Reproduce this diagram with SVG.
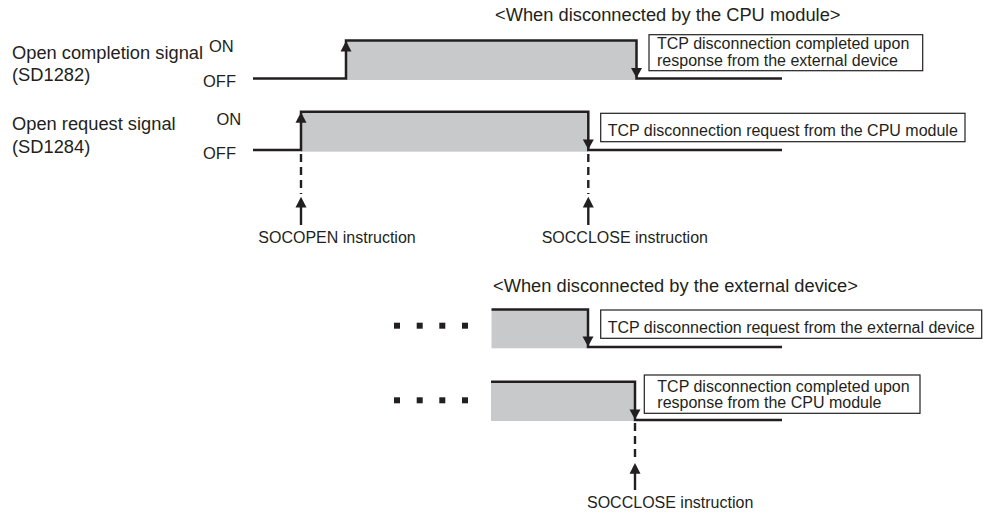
<svg xmlns="http://www.w3.org/2000/svg" width="983" height="515" viewBox="0 0 983 515">
<defs>
<style>
text{font-family:"Liberation Sans",Arial,sans-serif;fill:#231f20}
.lbl{font-size:18.3px}
.st{font-size:16.5px}
.bx{font-size:16px}
.ttl{font-size:18.3px}
.sig{fill:none;stroke:#231f20;stroke-width:2.5}
.fill{fill:#c8c9cb}
.box{fill:#fff;stroke:#231f20;stroke-width:1.2}
.dash{fill:none;stroke:#231f20;stroke-width:2.4;stroke-dasharray:8,5}
.shaft{fill:none;stroke:#231f20;stroke-width:2.4}
.ah{fill:#231f20}
.dot{fill:#231f20}
</style>
</defs>
<rect width="983" height="515" fill="#fff"/>

<text class="ttl" x="495" y="21">&lt;When disconnected by the CPU module&gt;</text>
<text class="ttl" x="493" y="292">&lt;When disconnected by the external device&gt;</text>

<g id="sd1282">
<text class="lbl" x="12" y="59">Open completion signal</text>
<text class="lbl" x="12" y="81">(SD1282)</text>
<text class="st" x="209" y="52">ON</text>
<text class="st" x="203" y="87">OFF</text>
<rect class="fill" x="346" y="40.5" width="290.5" height="39.5"/>
<path class="sig" d="M253,78.5 H346 V40.5 H636.5 V78.5 H782"/>
<path class="ah" d="M346,41 L340.5,51.5 L351.5,51.5 Z"/>
<path class="ah" d="M636.5,78 L631,68 L642,68 Z"/>
</g>

<g id="note1">
<rect class="box" x="649" y="34.7" width="273.7" height="36"/>
<text class="bx" x="657" y="49.3">TCP disconnection completed upon</text>
<text class="bx" x="657" y="66">response from the external device</text>
</g>

<g id="sd1284">
<text class="lbl" x="12" y="130">Open request signal</text>
<text class="lbl" x="12" y="153">(SD1284)</text>
<text class="st" x="216.5" y="125">ON</text>
<text class="st" x="203" y="158.5">OFF</text>
<rect class="fill" x="301" y="111.7" width="287.3" height="40"/>
<path class="sig" d="M253,150 H301 V111.7 H588.3 V150 H782"/>
<path class="ah" d="M301,112.2 L295.5,122.7 L306.5,122.7 Z"/>
<path class="ah" d="M588.3,149.5 L582.8,139.5 L593.8,139.5 Z"/>
</g>

<g id="note2">
<rect class="box" x="600.7" y="113.3" width="364.3" height="28.4"/>
<text class="bx" x="607.7" y="135.5">TCP disconnection request from the CPU module</text>
</g>

<g id="socopen">
<text class="bx" x="258.3" y="243">SOCOPEN instruction</text>
</g>
<g id="socclose1">
<text class="bx" x="541.7" y="243">SOCCLOSE instruction</text>
</g>

<g id="ext_request">
<rect class="dot" x="394" y="322.7" width="6" height="6"/>
<rect class="dot" x="416.7" y="322.7" width="6" height="6"/>
<rect class="dot" x="439.3" y="322.7" width="6" height="6"/>
<rect class="dot" x="462" y="322.7" width="6" height="6"/>
<rect class="fill" x="491.5" y="309.5" width="96.5" height="38.8"/>
<path class="sig" d="M491.5,309.5 H588 V347 H782"/>
<path class="ah" d="M588,346.5 L582.5,336.5 L593.5,336.5 Z"/>
</g>
<g id="note3">
<rect class="box" x="600.7" y="310" width="381" height="28.3"/>
<text class="bx" x="607.7" y="332.5">TCP disconnection request from the external device</text>
</g>

<g id="cpu_complete">
<rect class="dot" x="394" y="397.3" width="6" height="6"/>
<rect class="dot" x="416.7" y="397.3" width="6" height="6"/>
<rect class="dot" x="439.3" y="397.3" width="6" height="6"/>
<rect class="dot" x="462" y="397.3" width="6" height="6"/>
<rect class="fill" x="491" y="381.7" width="144" height="39.3"/>
<path class="sig" d="M491,381.7 H635 V420 H782"/>
<path class="ah" d="M635,419.5 L629.5,409.5 L640.5,409.5 Z"/>
</g>
<g id="note4">
<rect class="box" x="644.3" y="375" width="275.7" height="38.3"/>
<text class="bx" x="657.3" y="391.7">TCP disconnection completed upon</text>
<text class="bx" x="657.3" y="407.7">response from the CPU module</text>
</g>
<g id="socclose2">
<text class="bx" x="587" y="508">SOCCLOSE instruction</text>
</g>

<g id="connectors">
<path class="dash" d="M301,154 V194"/>
<path class="shaft" d="M301,206 V225"/>
<path class="ah" d="M301,196.7 L295.5,207.5 L306.5,207.5 Z"/>
<path class="dash" d="M588.3,154 V194"/>
<path class="shaft" d="M588.3,206 V225"/>
<path class="ah" d="M588.3,196.7 L582.8,207.5 L593.8,207.5 Z"/>
<path class="dash" d="M635,423 V460"/>
<path class="shaft" d="M635,472 V490"/>
<path class="ah" d="M635,463 L629.5,473.8 L640.5,473.8 Z"/>
</g>
</svg>
